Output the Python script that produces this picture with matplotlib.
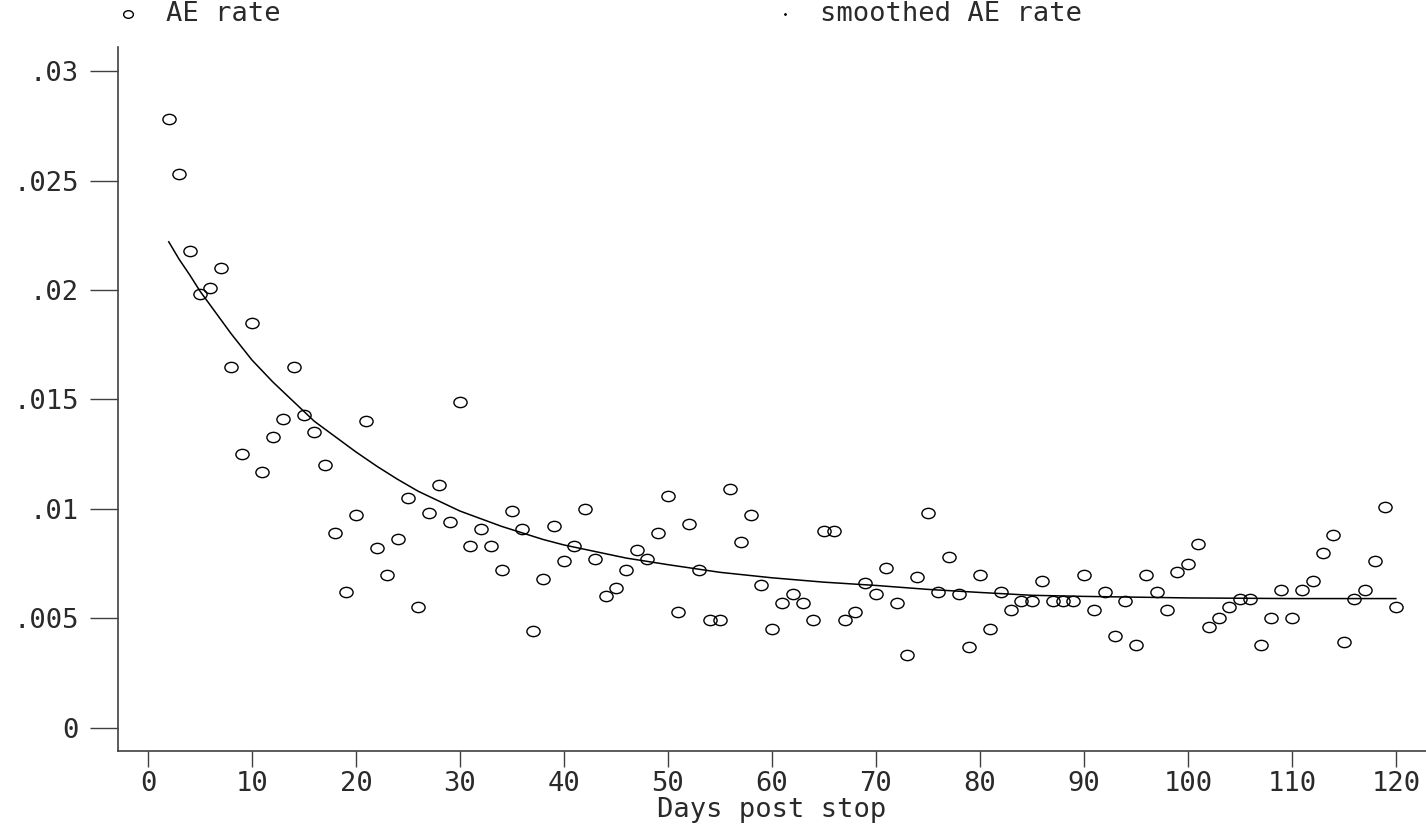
import matplotlib
matplotlib.use("Agg")
import matplotlib.pyplot as plt
import numpy as np
from matplotlib.path import Path
from matplotlib.lines import Line2D

### observed AE rate, days 2..120
days = list(range(2, 121))
ae_rate = [
    0.0278, 0.0253, 0.0218, 0.0198, 0.0201, 0.0210, 0.0165, 0.0125, 0.0185, 0.0117,  # 2-11
    0.0133, 0.0141, 0.0165, 0.0143, 0.0135, 0.0120, 0.0089, 0.0062, 0.0097, 0.0140,  # 12-21
    0.0082, 0.0070, 0.0086, 0.0105, 0.0055, 0.0098, 0.0111, 0.0094, 0.0149, 0.0083,  # 22-31
    0.0091, 0.0083, 0.0072, 0.0099, 0.0091, 0.0044, 0.0068, 0.0092, 0.0076, 0.0083,  # 32-41
    0.0100, 0.0077, 0.0060, 0.0064, 0.0072, 0.0081, 0.0077, 0.0089, 0.0106, 0.0053,  # 42-51
    0.0093, 0.0072, 0.0049, 0.0049, 0.0109, 0.0085, 0.0097, 0.0065, 0.0045, 0.0057,  # 52-61
    0.0061, 0.0057, 0.0049, 0.0090, 0.0090, 0.0049, 0.0053, 0.0066, 0.0061, 0.0073,  # 62-71
    0.0057, 0.0033, 0.0069, 0.0098, 0.0062, 0.0078, 0.0061, 0.0037, 0.0070, 0.0045,  # 72-81
    0.0062, 0.0054, 0.0058, 0.0058, 0.0067, 0.0058, 0.0058, 0.0058, 0.0070, 0.0054,  # 82-91
    0.0062, 0.0042, 0.0058, 0.0038, 0.0070, 0.0062, 0.0054, 0.0071, 0.0075, 0.0084,  # 92-101
    0.0046, 0.0050, 0.0055, 0.0059, 0.0059, 0.0038, 0.0050, 0.0063, 0.0050, 0.0063,  # 102-111
    0.0067, 0.0080, 0.0088, 0.0039, 0.0059, 0.0063, 0.0076, 0.0101, 0.0055,          # 112-120
]

### smoothed curve
smooth_days = [2, 3, 4, 5, 6, 7, 8, 9, 10, 11, 12, 13, 14, 15, 16, 17, 18, 19, 20,
               22, 24, 26, 28, 30, 32, 34, 36, 38, 40, 43, 46, 50, 55, 60, 65, 70,
               75, 80, 85, 90, 100, 110, 120]
smooth_rate = [0.02220, 0.02140, 0.02070, 0.01995, 0.01930, 0.01865, 0.01800, 0.01740,
               0.01680, 0.01630, 0.01580, 0.01535, 0.01490, 0.01445, 0.01400, 0.01365,
               0.01330, 0.01295, 0.01260, 0.01195, 0.01135, 0.01080, 0.01035, 0.00990,
               0.00955, 0.00920, 0.00890, 0.00860, 0.00835, 0.00805, 0.00775, 0.00745,
               0.00710, 0.00685, 0.00665, 0.00650, 0.00632, 0.00618, 0.00605, 0.00600,
               0.00593, 0.00590, 0.00590]

yticks = [0, 0.005, 0.01, 0.015, 0.02, 0.025, 0.03]
ytick_labels = ["0", ".005", ".01", ".015", ".02", ".025", ".03"]
xticks = list(range(0, 121, 10))

plt.rcParams['font.family'] = ['DejaVu Sans Mono']
FS = 19.5
TXT = '#2a2a2a'

# slightly flattened hollow circle, like the original renderer
circ = Path.unit_circle()
ell = Path(circ.vertices * np.array([1.0, 0.78]), circ.codes)

fig = plt.figure(figsize=(14.26, 8.25), dpi=100)
ax = fig.add_axes([118/1426, 1 - 750.7/825, 1 - 118/1426, (750.7 - 47)/825])

ax.plot(days, ae_rate, linestyle='none', marker=ell, markersize=9.5,
        markerfacecolor='none', markeredgecolor='black', markeredgewidth=1.0)
ax.plot(smooth_days, smooth_rate, color='black', linewidth=1.1)

ax.set_xlim(-2.88, 122.9)
ax.set_ylim(-0.00105, 0.0311)

ax.set_yticks(yticks)
ax.set_yticklabels(ytick_labels, fontsize=FS, color=TXT)
ax.set_xticks(xticks)
ax.set_xticklabels([str(t) for t in xticks], fontsize=FS, color=TXT)
ax.tick_params(axis='y', length=20, width=1.0, pad=8, color='#404040')
ax.tick_params(axis='x', length=11.5, width=1.0, pad=3, color='#404040')
ax.set_xlabel("Days post stop", fontsize=FS, labelpad=0, color=TXT)

for s in ['top', 'right']:
    ax.spines[s].set_visible(False)
for s in ['left', 'bottom']:
    ax.spines[s].set_color('#404040')
    ax.spines[s].set_linewidth(1.2)

### legend across the top
ly = 1 - 14/825
fig.add_artist(Line2D([128/1426], [ly], transform=fig.transFigure, marker=ell,
                      markersize=7, markerfacecolor='none', markeredgecolor='black',
                      markeredgewidth=1.0, linestyle='none'))
fig.text(166/1426, ly, "AE rate", fontsize=FS, va='center', ha='left', color=TXT)
fig.add_artist(Line2D([785/1426], [ly], transform=fig.transFigure, marker='.',
                      markersize=2, color='black', linestyle='none'))
fig.text(820/1426, ly, "smoothed AE rate", fontsize=FS, va='center', ha='left', color=TXT)

fig.savefig("out.png", dpi=100)
